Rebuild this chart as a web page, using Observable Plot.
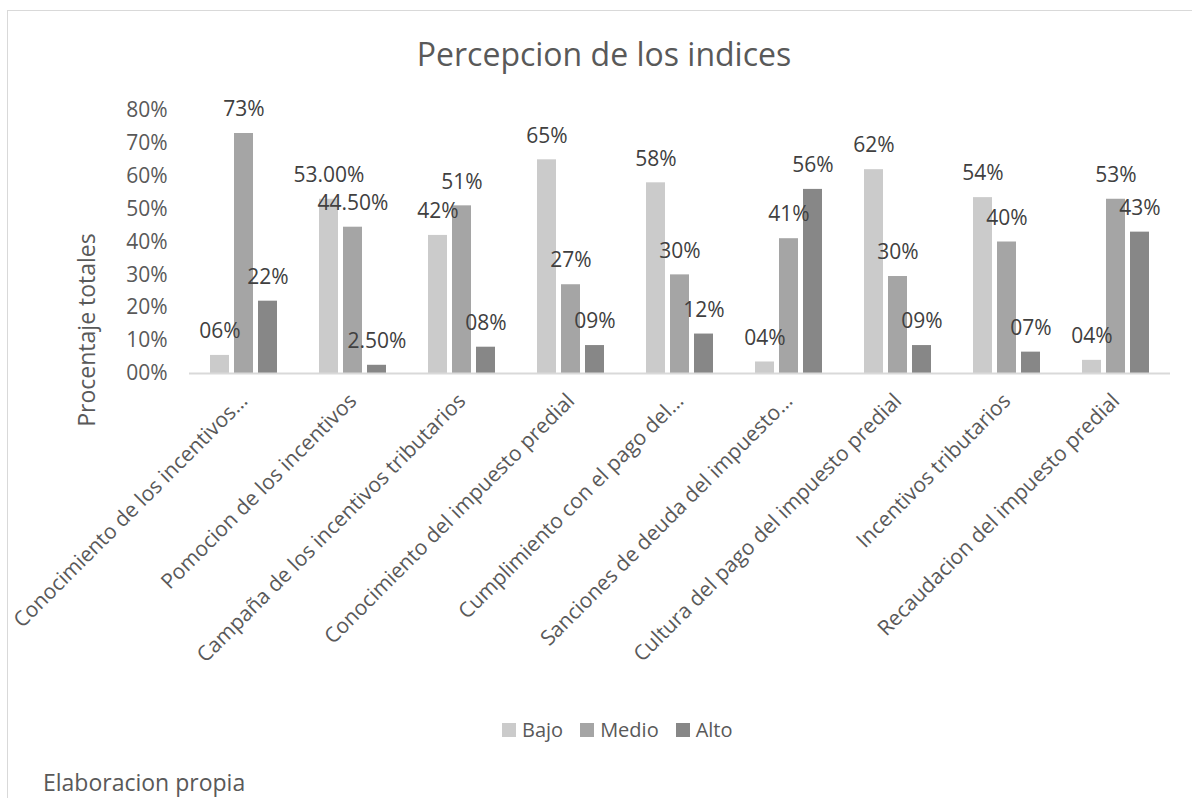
<!DOCTYPE html>
<html>
<head>
<meta charset="utf-8">
<script src="https://cdn.jsdelivr.net/npm/d3@7"></script>
<script src="https://cdn.jsdelivr.net/npm/@observablehq/plot@0.6"></script>
<style>
  html, body { margin: 0; padding: 0; background: #fff; }
  body { width: 1192px; height: 798px; position: relative; overflow: hidden; font-family: "Open Sans", sans-serif; }
  #frame { position: absolute; left: 7px; top: 10px; width: 1300px; height: 900px; border-left: 1px solid #d9d9d9; border-top: 1px solid #d9d9d9; }
  #chart { position: absolute; left: 0; top: 0; }
  #title { position: absolute; left: 304px; width: 600px; top: 38px; text-align: center; font-size: 32px; line-height: 32px; color: #595959; white-space: nowrap; }
  #ytitle { position: absolute; left: -64px; width: 300px; top: 318px; text-align: center; font-size: 23px; line-height: 24px; color: #595959; transform: rotate(-90deg); transform-origin: 150px 12px; white-space: nowrap; }
  #legend { position: absolute; left: 502px; top: 716px; display: flex; align-items: center; font-size: 20px; line-height: 28px; color: #595959; }
  #legend .item { display: flex; align-items: center; margin-right: 17px; }
  #legend .sw { width: 14px; height: 14px; margin-right: 6px; }
  #caption { position: absolute; left: 43px; top: 771px; font-size: 23px; line-height: 23px; color: #595959; white-space: nowrap; }
</style>
</head>
<body>
<div id="frame"></div>
<div id="chart"></div>
<div id="title">Percepcion de los indices</div>
<div id="ytitle">Procentaje totales</div>
<div id="legend"></div>
<div id="caption">Elaboracion propia</div>
<script>
const categories = [
  "Conocimiento de los incentivos…",
  "Pomocion de los incentivos",
  "Campaña de los incentivos tributarios",
  "Conocimiento del impuesto predial",
  "Cumplimiento con el pago del…",
  "Sanciones de deuda del impuesto…",
  "Cultura del pago del impuesto predial",
  "Incentivos tributarios",
  "Recaudacion del impuesto predial"
];
const series = ["Bajo", "Medio", "Alto"];
const bajo  = [0.055, 0.53, 0.42, 0.65, 0.58, 0.035, 0.62, 0.535, 0.04];
const medio = [0.73, 0.445, 0.51, 0.27, 0.30, 0.41, 0.295, 0.40, 0.53];
const alto  = [0.22, 0.025, 0.08, 0.085, 0.12, 0.56, 0.085, 0.065, 0.43];
const bajoLabels  = ["06%", "53.00%", "42%", "65%", "58%", "04%", "62%", "54%", "04%"];
const medioLabels = ["73%", "44.50%", "51%", "27%", "30%", "41%", "30%", "40%", "53%"];
const altoLabels  = ["22%", "2.50%", "08%", "09%", "12%", "56%", "09%", "07%", "43%"];
const yTicks = [0, 0.1, 0.2, 0.3, 0.4, 0.5, 0.6, 0.7, 0.8];
const yTickLabels = ["00%", "10%", "20%", "30%", "40%", "50%", "60%", "70%", "80%"];
const colors = ["#cbcbcb", "#a5a5a5", "#878787"];

const valuesBySeries = [bajo, medio, alto];
const labelsBySeries = [bajoLabels, medioLabels, altoLabels];
const rows = categories.flatMap((c, i) =>
  series.map((s, j) => ({cat: c, serie: s, value: valuesBySeries[j][i], label: labelsBySeries[j][i]}))
);

const chart = Plot.plot({
  width: 1192,
  height: 798,
  marginTop: 110,
  marginBottom: 425,
  marginLeft: 187,
  marginRight: 21,
  style: {fontFamily: "Open Sans", background: "transparent", overflow: "visible"},
  fx: {domain: categories, padding: 0, label: null},
  x: {domain: series, paddingInner: 0.22, paddingOuter: 0.86, axis: null},
  y: {domain: [0, 0.8], axis: null},
  color: {domain: series, range: colors},
  marks: [
    Plot.axisY({ticks: yTicks, tickFormat: d => yTickLabels[Math.round(d * 10)], tickSize: 0, tickPadding: 22, fontSize: 21, color: "#595959", label: null}),
    Plot.barY(rows, {fx: "cat", x: "serie", y: "value", fill: "serie"}),
    Plot.ruleY([0], {stroke: "#d9d9d9", strokeWidth: 2}),
    Plot.text(rows, {fx: "cat", x: "serie", y: "value", text: "label", dy: -24, fontSize: 21, fill: "#404040"}),
    Plot.axisFx({tickRotate: -45, tickSize: 0, tickPadding: 24, fontSize: 21, color: "#595959", label: null, anchor: "bottom"})
  ]
});
document.getElementById("chart").appendChild(chart);

const legend = document.getElementById("legend");
series.forEach((s, j) => {
  const item = document.createElement("div");
  item.className = "item";
  const sw = document.createElement("div");
  sw.className = "sw";
  sw.style.background = colors[j];
  const t = document.createElement("span");
  t.textContent = s;
  item.appendChild(sw);
  item.appendChild(t);
  legend.appendChild(item);
});
</script>
</body>
</html>
